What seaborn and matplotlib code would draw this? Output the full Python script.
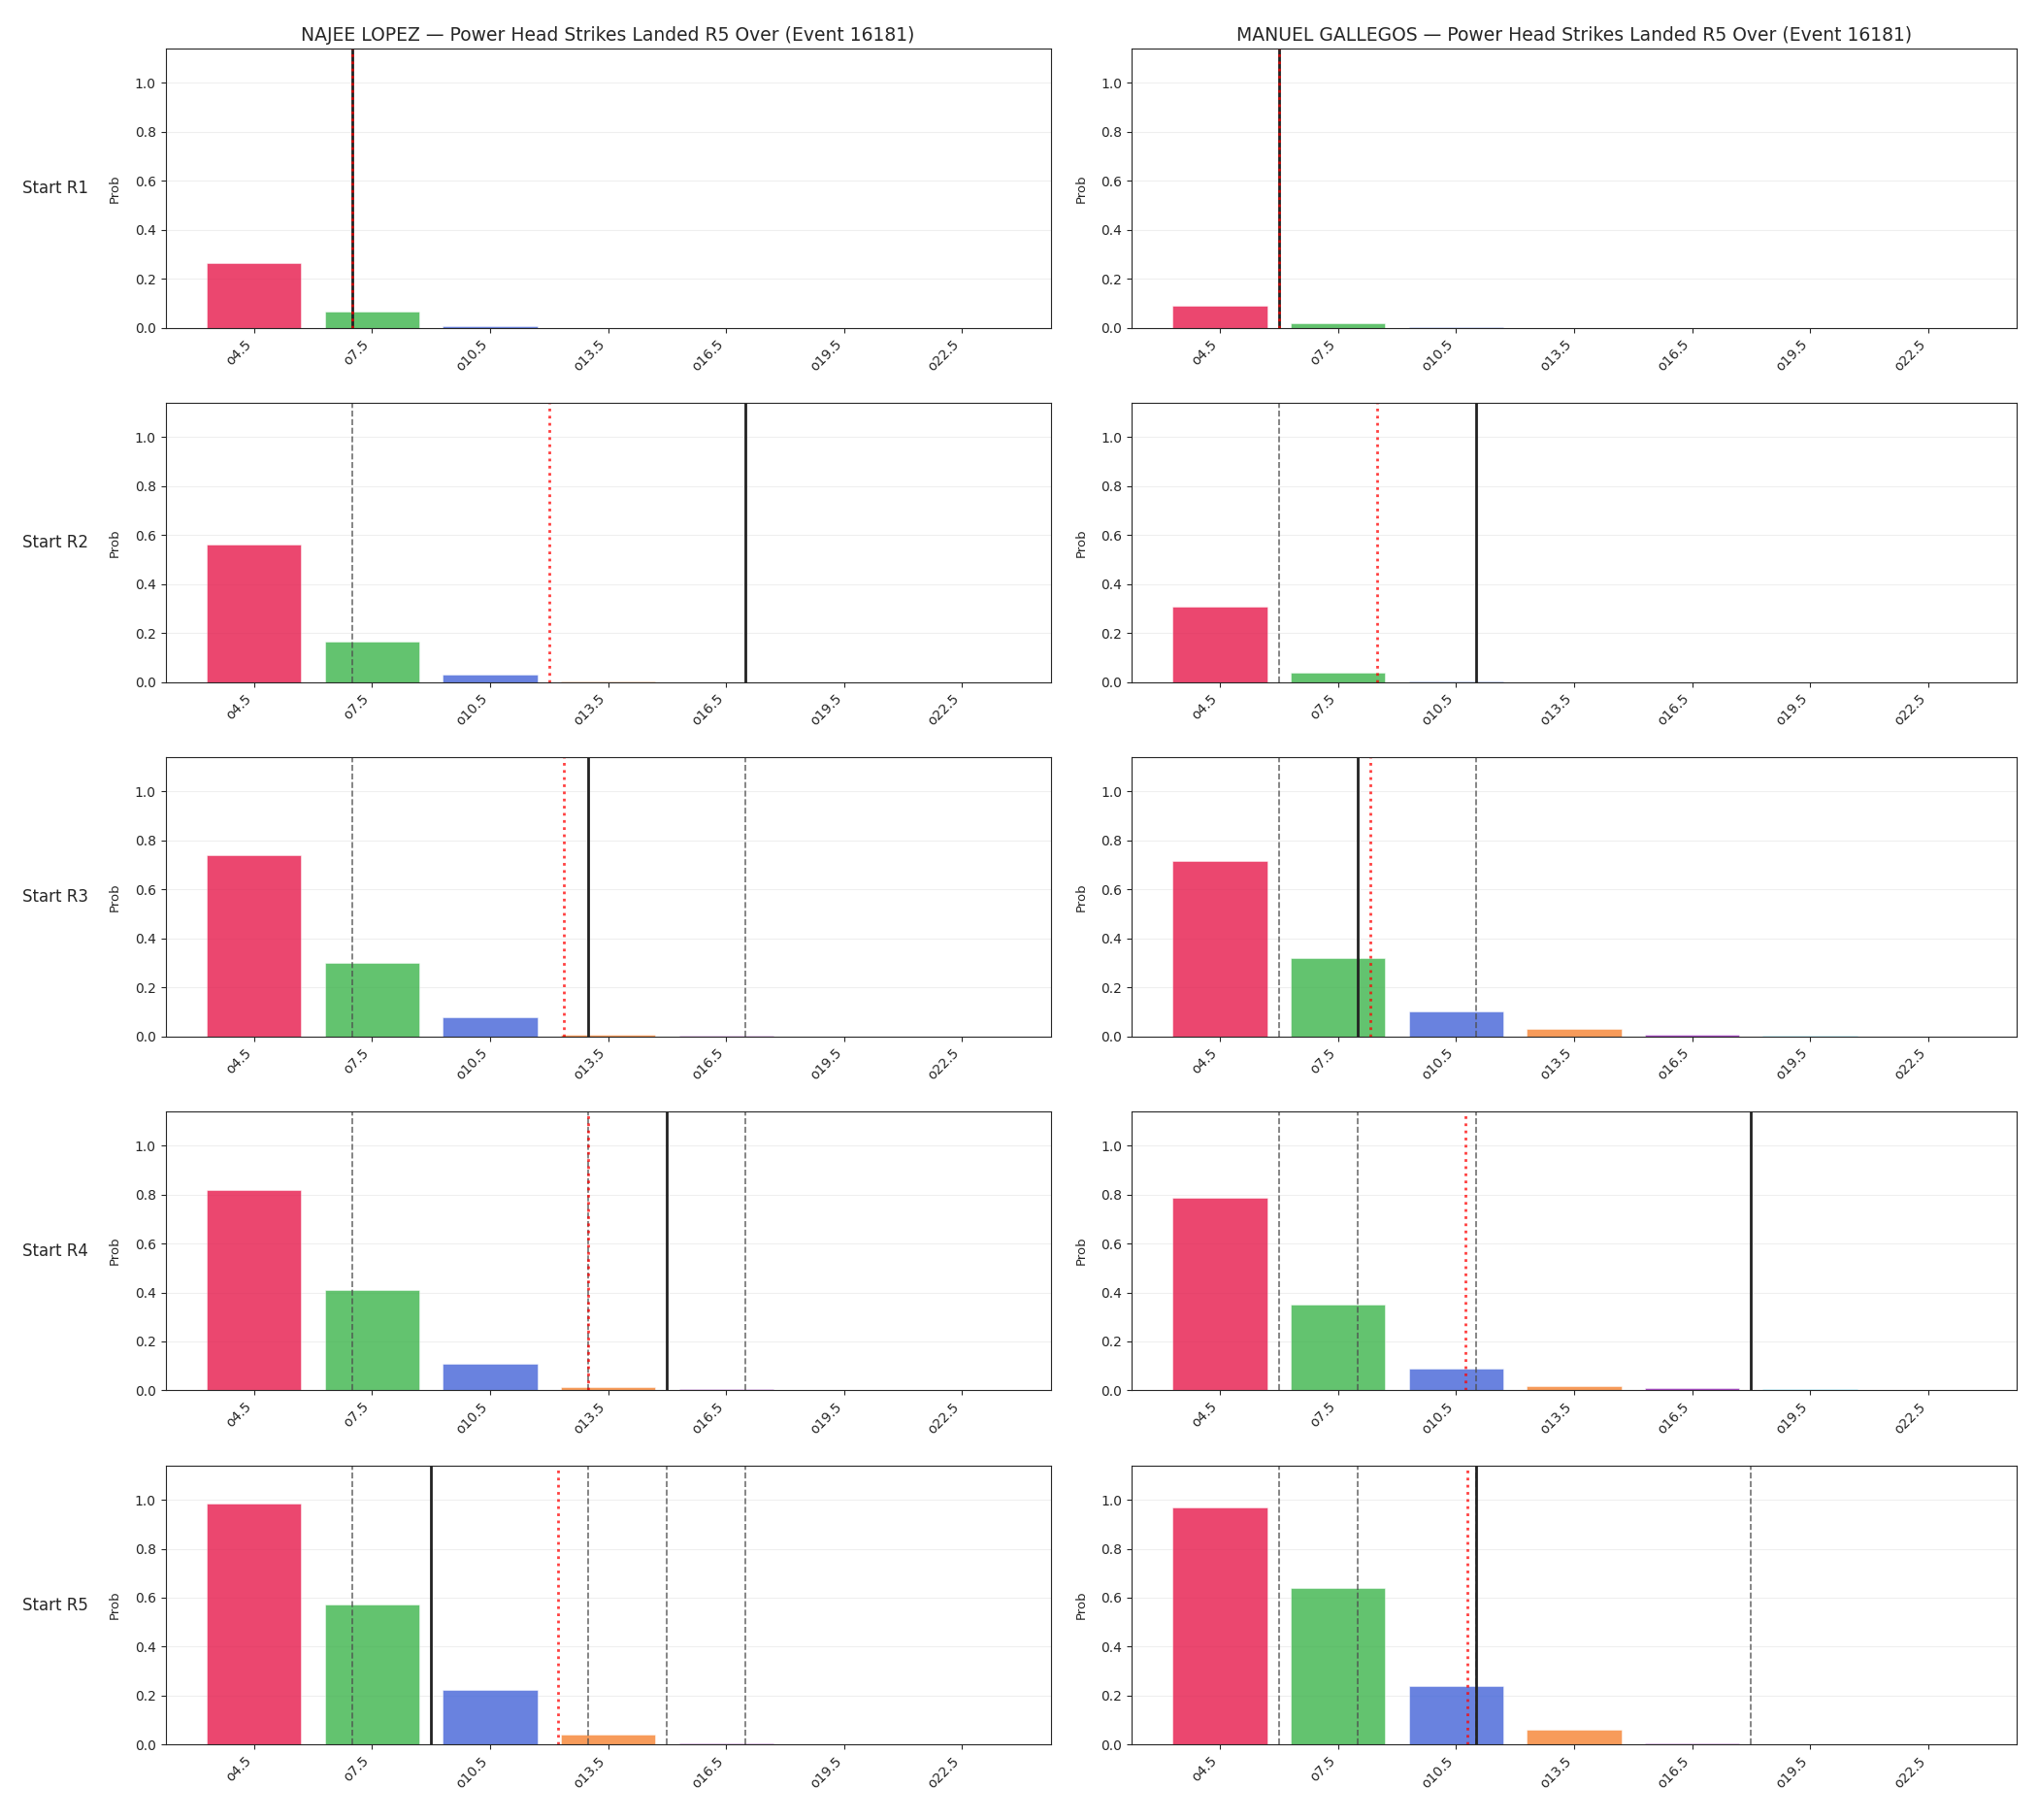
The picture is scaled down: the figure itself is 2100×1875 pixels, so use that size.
import matplotlib
matplotlib.use('Agg')
import matplotlib.pyplot as plt
import seaborn as sns
import pandas as pd

# --- data ---
thresholds = [4.5, 7.5, 10.5, 13.5, 16.5, 19.5, 22.5]
tick_labels = ['o4.5', 'o7.5', 'o10.5', 'o13.5', 'o16.5', 'o19.5', 'o22.5']
round_labels = ['Start R1', 'Start R2', 'Start R3', 'Start R4', 'Start R5']
bar_colors = ['#e6194b', '#3cb44b', '#4363d8', '#f58231', '#911eb4', '#42d4f4', '#f032e6']

lopez_name = 'NAJEE LOPEZ'
lopez_probs = [
    [0.265, 0.066, 0.005, 0.0, 0.0, 0.0, 0.0],
    [0.561, 0.165, 0.030, 0.001, 0.0, 0.0, 0.0],
    [0.739, 0.300, 0.078, 0.005, 0.0005, 0.0, 0.0],
    [0.818, 0.410, 0.110, 0.013, 0.007, 0.0005, 0.0],
    [0.984, 0.572, 0.225, 0.042, 0.007, 0.0005, 0.0],
]
lopez_current = [7, 17, 13, 15, 9]
lopez_expected = [7.0, 12.0, 12.37, 13.0, 12.23]

gallegos_name = 'MANUEL GALLEGOS'
gallegos_probs = [
    [0.090, 0.0185, 0.002, 0.0, 0.0, 0.0, 0.0],
    [0.308, 0.038, 0.004, 0.0, 0.0, 0.0, 0.0],
    [0.714, 0.318, 0.100, 0.029, 0.006, 0.001, 0.0],
    [0.788, 0.351, 0.090, 0.018, 0.008, 0.006, 0.0],
    [0.968, 0.639, 0.239, 0.061, 0.007, 0.001, 0.0],
]
gallegos_current = [6, 11, 8, 18, 11]
gallegos_expected = [6.0, 8.5, 8.32, 10.73, 10.78]

market = 'Power Head Strikes Landed R5 Over (Event 16181)'

sns.set_style('ticks')
fig, axes = plt.subplots(5, 2, figsize=(21, 18.75), dpi=100)
fig.subplots_adjust(left=0.0812, right=0.9895, top=0.9733, bottom=0.0414,
                    wspace=0.0914, hspace=0.2687)

palette = dict(zip(thresholds, bar_colors))
fighters = [
    (lopez_name, lopez_probs, lopez_current, lopez_expected),
    (gallegos_name, gallegos_probs, gallegos_current, gallegos_expected),
]

for col, (name, probs, current, expected) in enumerate(fighters):
    for row in range(len(round_labels)):
        ax = axes[row, col]
        df = pd.DataFrame({'line': thresholds, 'prob': probs[row]})
        sns.barplot(data=df, x='line', y='prob', hue='line', palette=palette,
                    native_scale=True, saturation=1, alpha=0.8,
                    edgecolor='white', linewidth=0.4, legend=False, ax=ax)

        # earlier rounds as dashed markers
        for prev in current[:row]:
            ax.axvline(prev, color='0.3', ls='--', lw=1.2, alpha=0.8)
        ax.axvline(current[row], color='#222222', lw=2)
        ax.axvline(expected[row], color='red', ls=':', lw=2, alpha=0.75)

        ax.set_xlim(2.25, 24.75)
        ax.set_ylim(0, 1.14)
        ax.set_xticks(thresholds)
        ax.set_xticklabels(tick_labels, rotation=45, ha='right')
        ax.set_xlabel('')
        ax.set_ylabel('Prob', fontsize=9.5, labelpad=10)
        ax.grid(axis='y', alpha=0.3)

        if row == 0:
            ax.set_title(f'{name} \u2014 {market}', fontsize=13.5)
        if col == 0:
            ax.text(-0.162, 0.5, round_labels[row], transform=ax.transAxes,
                    ha='left', va='center', fontsize=12)

fig.savefig('out.png', dpi=100)
